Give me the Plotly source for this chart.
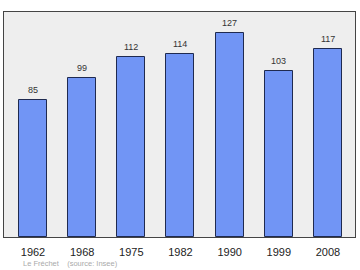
import plotly.graph_objects as go

years = ["1962", "1968", "1975", "1982", "1990", "1999", "2008"]
population = [85, 99, 112, 114, 127, 103, 117]
positions = list(range(len(years)))

FONT = "Liberation Sans, Arial, sans-serif"

fig = go.Figure()
fig.add_trace(go.Bar(
    x=positions, y=population, width=0.57,
    marker=dict(color="#7195f5", line=dict(color="#1f2a50", width=1)),
))
annotations = [dict(x=p, y=v, text=str(v), xref="x", yref="y", showarrow=False,
                    yanchor="bottom", yshift=3,
                    font=dict(family=FONT, size=9, color="#333333"))
               for p, v in zip(positions, population)]
annotations.append(dict(text="Le Fréchet    (source: Insee)", xref="paper", yref="paper",
                        x=0.048, y=-0.116, xanchor="left", yanchor="middle", showarrow=False,
                        font=dict(family=FONT, size=7.5, color="#aaaaaa")))
fig.update_layout(
    width=360, height=270,
    margin=dict(l=4, r=5, t=12, b=33),
    paper_bgcolor="white", plot_bgcolor="#eeeeee",
    showlegend=False, bargap=0,
    xaxis=dict(range=[-0.59, 6.55], tickvals=positions, ticktext=years,
               showgrid=False, zeroline=False, showline=True, mirror=True,
               linecolor="#444444", linewidth=1, ticks="", ticklabelstandoff=5,
               tickfont=dict(family=FONT, size=11, color="#222222")),
    yaxis=dict(range=[0, 140], showgrid=False, zeroline=False, showticklabels=False,
               showline=True, mirror=True, linecolor="#444444", linewidth=1, ticks=""),
    annotations=annotations,
)
fig.write_html("out.html")
